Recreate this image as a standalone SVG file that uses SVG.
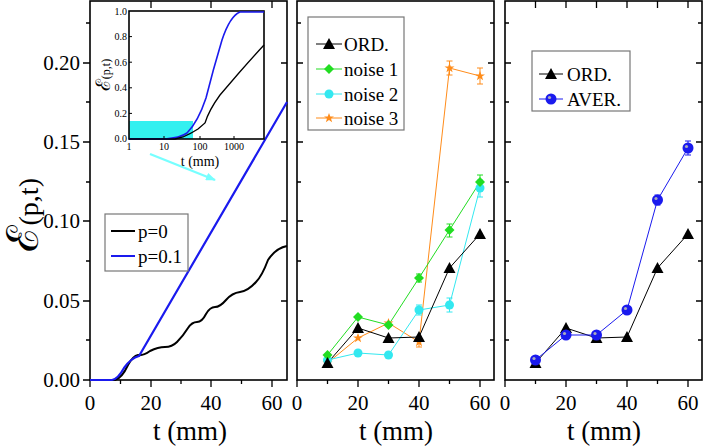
<svg xmlns="http://www.w3.org/2000/svg" width="706" height="448" viewBox="0 0 706 448" font-family="'Liberation Serif','DejaVu Serif','Noto Serif',serif">
<style>
text{font-family:"Liberation Serif","DejaVu Serif","Noto Serif",serif;fill:#000}
.tl{font-size:21px}
.ax{font-size:27px}
.sm{font-size:10px}
.lg{font-size:19px}
.fr{fill:none;stroke:#000;stroke-width:1.6}
.tk{stroke:#000;stroke-width:1.3}
.th{stroke:#000;stroke-width:1}
.lb{fill:#fff;stroke:#777;stroke-width:1.2}
</style>
<defs>
<path id="tri" d="M0,-6 L6,5 L-6,5Z" fill="#000"/>
<path id="dia" d="M0,-5 L5,0 L0,5 L-5,0Z" fill="#22dd22"/>
<circle id="cyc" r="4.5" fill="#33e8f0"/>
<path id="star" d="M0,-5 L1.3,-1.6 5,-1.6 2,0.6 3.1,4.2 0,2 -3.1,4.2 -2,0.6 -5,-1.6 -1.3,-1.6Z" fill="#ff8c1a"/>
<g id="ball"><circle r="5.5" fill="#1a1aee"/><circle cx="-1.5" cy="-1.5" r="1.6" fill="#aab"/></g>
<marker id="ar" markerWidth="10" markerHeight="8" refX="9" refY="4" orient="auto" markerUnits="userSpaceOnUse"><path d="M0,0 L10,4 L0,8Z" fill="#7ff"/></marker>
</defs>

<!-- Panel 1 -->
<g id="panel1">
<rect class="fr" x="90" y="1" width="197" height="379"/>
<g class="tk">
<path d="M90,380h-7M90,301h-7M90,221h-7M90,142h-7M90,63h-7M90,340h-4M90,261h-4M90,182h-4M90,102h-4M90,23h-4"/>
<path d="M287,301h-6M287,221h-6M287,142h-6M287,63h-6"/>
<path d="M90,380v7M151,380v7M211,380v7M272,380v7M120.5,380v4M181,380v4M241.5,380v4"/>
<path d="M151,1v7M211,1v7M272,1v7"/>
</g>
<g class="tl" text-anchor="end">
<text x="80" y="387">0.00</text><text x="80" y="308">0.05</text><text x="80" y="228">0.10</text><text x="80" y="149">0.15</text><text x="80" y="70">0.20</text>
</g>
<g class="tl" text-anchor="middle">
<text x="90" y="410">0</text><text x="151" y="410">20</text><text x="211" y="410">40</text><text x="272" y="410">60</text>
</g>
<text class="ax" x="190" y="440" text-anchor="middle">t (mm)</text>
<path d="M90,380 L115,380 Q122,378 128,365 Q133,356 138,355 Q143,356 150,351 Q158,347 165,347 Q172,347 177,342 Q183,336 188,328 Q192,322 197,322 Q202,322 206,314 Q210,307 215,307 Q220,307 226,300 Q232,293 240,292 Q248,291 256,282 Q262,276 268,260 Q276,248 287,246" fill="none" stroke="#000" stroke-width="2"/>
<path d="M90,380 L112,380 Q118,379 124,368 Q131,358 139,356 L287,102" fill="none" stroke="#1a1aee" stroke-width="2.2"/>
<rect class="lb" x="105" y="214" width="83" height="57"/>
<line x1="111" y1="231" x2="135" y2="231" stroke="#000" stroke-width="2"/>
<line x1="111" y1="256" x2="135" y2="256" stroke="#1a1aee" stroke-width="2"/>
<text class="lg" x="138" y="238">p=0</text>
<text class="lg" x="138" y="263">p=0.1</text>
<line x1="150" y1="154" x2="215" y2="180" stroke="#7ff" stroke-width="2.2" marker-end="url(#ar)"/>
<text x="38" y="215" transform="rotate(-90 38 215)" text-anchor="middle"><tspan font-size="44" font-style="italic">ℰ</tspan><tspan font-size="28">(p,t)</tspan></text>
</g>

<!-- Inset -->
<g id="inset">
<rect x="129" y="11" width="135" height="128" fill="#fff" stroke="none"/>
<rect x="129" y="121" width="64" height="18" fill="#33f0f0"/>
<rect class="fr" x="129" y="11" width="135" height="128" stroke-width="1"/>
<g class="th">
<path d="M129,139h3M129,113.4h3M129,87.8h3M129,62.2h3M129,36.6h3M164,139v-3M200,139v-3M234,139v-3"/>
</g>
<g class="sm" text-anchor="end">
<text x="127" y="142">0.0</text><text x="127" y="117">0.2</text><text x="127" y="91">0.4</text><text x="127" y="66">0.6</text><text x="127" y="40">0.8</text><text x="127" y="15">1.0</text>
</g>
<g class="sm" text-anchor="middle">
<text x="129" y="150">1</text><text x="164" y="150">10</text><text x="200" y="150">100</text><text x="234" y="150">1000</text>
</g>
<text x="200" y="166" font-size="14" text-anchor="middle">t (mm)</text>
<text x="110" y="75" transform="rotate(-90 110 75)" text-anchor="middle"><tspan font-size="20" font-style="italic">ℰ</tspan><tspan font-size="12">(p,t)</tspan></text>
<path d="M129,139 L165,139 Q180,138 187,133 Q198,122 206,98 Q213,70 222,40 Q230,16 240,12 L264,12" fill="none" stroke="#1a1aee" stroke-width="1.6"/>
<path d="M129,139 L175,139 L183,137 Q192,133 198,129 L205,123 Q209,110 220,95 L238,74 Q252,58 264,45" fill="none" stroke="#000" stroke-width="1.3"/>
</g>

<!-- Panel 2 -->
<g id="panel2">
<rect class="fr" x="297" y="1" width="197" height="379"/>
<g class="tk">
<path d="M297,301h6M297,221h6M297,142h6M297,63h6M297,340h4M297,261h4M297,182h4M297,102h4M297,23h4"/>
<path d="M494,301h-6M494,221h-6M494,142h-6M494,63h-6M494,340h-4M494,261h-4M494,182h-4M494,102h-4M494,23h-4"/>
<path d="M297,380v7M358,380v7M419,380v7M480,380v7M327.5,380v4M388.5,380v4M449.5,380v4"/>
</g>
<g class="tl" text-anchor="middle">
<text x="297" y="410">0</text><text x="358" y="410">20</text><text x="419" y="410">40</text><text x="480" y="410">60</text>
</g>
<text class="ax" x="396" y="440" text-anchor="middle">t (mm)</text>
<g fill="none" stroke-width="1">
<polyline points="327.5,363 358,338 388.5,323 419,342 449.5,68 480,76" stroke="#ff8c1a"/>
<polyline points="327.5,360 358,353 388.5,355 419,310 449.5,305 480,188" stroke="#33e8f0"/>
<polyline points="327.5,355 358,317 388.5,325 419,278 449.5,230 480,182" stroke="#22dd22"/>
<polyline points="327.5,363 358,328 388.5,338 419,337 449.5,268 480,234" stroke="#000"/>
<path d="M449.5,61v14M446.5,61h6M446.5,75h6M480,68v16M477,68h6M477,84h6" stroke="#ff8c1a"/>
<path d="M480,175v15M477,175h6M477,190h6M449.5,224v13M446.5,224h6M446.5,237h6M419,274v8M416,274h6M416,282h6" stroke="#22dd22"/>
<path d="M480,180v17M477,180h6M477,197h6M449.5,298v14M446.5,298h6M446.5,312h6M419,305v10M416,305h6M416,315h6" stroke="#33e8f0"/>
<path d="M419,337v10M416,347h6" stroke="#ff8c1a"/>
</g>
<use href="#star" x="327.5" y="363"/><use href="#star" x="358" y="338"/><use href="#star" x="388.5" y="323"/><use href="#star" x="419" y="342"/><use href="#star" x="449.5" y="68"/><use href="#star" x="480" y="76"/>
<use href="#cyc" x="327.5" y="360"/><use href="#cyc" x="358" y="353"/><use href="#cyc" x="388.5" y="355"/><use href="#cyc" x="419" y="310"/><use href="#cyc" x="449.5" y="305"/><use href="#cyc" x="480" y="188"/>
<use href="#dia" x="327.5" y="355"/><use href="#dia" x="358" y="317"/><use href="#dia" x="388.5" y="325"/><use href="#dia" x="419" y="278"/><use href="#dia" x="449.5" y="230"/><use href="#dia" x="480" y="182"/>
<use href="#tri" x="327.5" y="363"/><use href="#tri" x="358" y="328"/><use href="#tri" x="388.5" y="338"/><use href="#tri" x="419" y="337"/><use href="#tri" x="449.5" y="268"/><use href="#tri" x="480" y="234"/>
<rect class="lb" x="308" y="17" width="96" height="113"/>
<line x1="316" y1="44" x2="342" y2="44" stroke="#000"/><use href="#tri" x="329" y="44"/>
<line x1="316" y1="69" x2="342" y2="69" stroke="#22dd22"/><use href="#dia" x="329" y="69"/>
<line x1="316" y1="94" x2="342" y2="94" stroke="#33e8f0"/><use href="#cyc" x="329" y="94"/>
<line x1="316" y1="118" x2="342" y2="118" stroke="#ff8c1a"/><use href="#star" x="329" y="118"/>
<text class="lg" x="344" y="51">ORD.</text><text class="lg" x="344" y="76">noise 1</text><text class="lg" x="344" y="101">noise 2</text><text class="lg" x="344" y="125">noise 3</text>
</g>

<!-- Panel 3 -->
<g id="panel3">
<rect class="fr" x="505" y="1" width="197" height="379"/>
<g class="tk">
<path d="M505,301h6M505,221h6M505,142h6M505,63h6M505,340h4M505,261h4M505,182h4M505,102h4M505,23h4"/>
<path d="M702,301h-6M702,221h-6M702,142h-6M702,63h-6M702,340h-4M702,261h-4M702,182h-4M702,102h-4M702,23h-4"/>
<path d="M505,380v7M566,380v7M627,380v7M688,380v7M535.5,380v4M596.5,380v4M657.5,380v4"/>
<path d="M535.5,1v7M566,1v7M596.5,1v7M627,1v7M657.5,1v7M688,1v7"/>
</g>
<g class="tl" text-anchor="middle">
<text x="505" y="410">0</text><text x="566" y="410">20</text><text x="627" y="410">40</text><text x="688" y="410">60</text>
</g>
<text class="ax" x="604" y="440" text-anchor="middle">t (mm)</text>
<polyline points="535.5,363 566,328 596.5,338 627,337 657.5,268 688,234" fill="none" stroke="#000" stroke-width="1"/>
<polyline points="535.5,360 566,335 596.5,335 627,310 657.5,200 688,148" fill="none" stroke="#1a1aee" stroke-width="1"/>
<path d="M688,141v14M685,141h6M685,155h6M657.5,195v10M654.5,195h6M654.5,205h6" stroke="#1a1aee" fill="none"/>
<use href="#tri" x="535.5" y="363"/><use href="#tri" x="566" y="328"/><use href="#tri" x="596.5" y="338"/><use href="#tri" x="627" y="337"/><use href="#tri" x="657.5" y="268"/><use href="#tri" x="688" y="234"/>
<use href="#ball" x="535.5" y="360"/><use href="#ball" x="566" y="335"/><use href="#ball" x="596.5" y="335"/><use href="#ball" x="627" y="310"/><use href="#ball" x="657.5" y="200"/><use href="#ball" x="688" y="148"/>
<rect class="lb" x="532" y="51" width="98" height="60"/>
<line x1="539" y1="74" x2="563" y2="74" stroke="#000"/><use href="#tri" x="551" y="74"/>
<line x1="539" y1="99" x2="563" y2="99" stroke="#1a1aee"/><use href="#ball" x="551" y="99"/>
<text class="lg" x="567" y="81">ORD.</text><text class="lg" x="567" y="106">AVER.</text>
</g>
</svg>
